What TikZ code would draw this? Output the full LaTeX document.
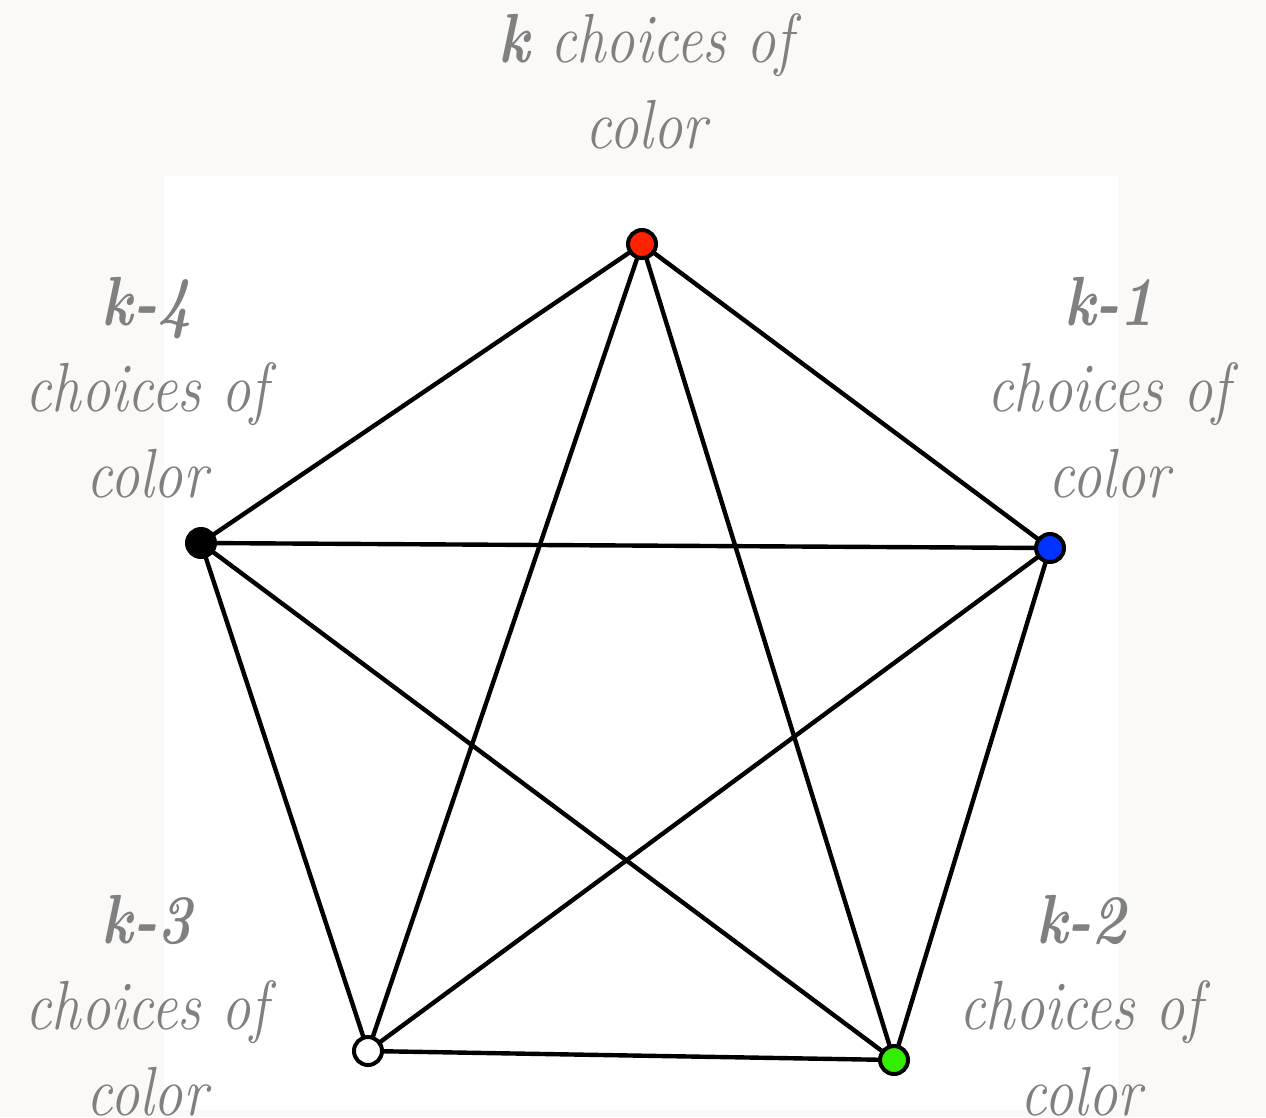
\documentclass[tikz,border=0pt]{standalone}
\usepackage{graphicx}
\definecolor{bgoff}{RGB}{250,249,247}
\definecolor{labelgray}{RGB}{128,128,128}
\definecolor{vred}{RGB}{255,34,0}
\definecolor{vblue}{RGB}{0,51,255}
\definecolor{vgreen}{RGB}{51,238,0}
\newcommand{\lline}[1]{\scalebox{0.96}[1.14]{#1}}
\begin{document}
\begin{tikzpicture}[x=1pt,y=-1pt,
  vertex/.style={circle,draw=black,line width=4pt,minimum size=28pt,inner sep=0pt},
  edge/.style={line width=4.4pt,black},
  lbl/.style={text=labelgray,align=center,anchor=base,inner sep=0pt,
    font=\fontsize{61}{86}\selectfont\itshape}]
\useasboundingbox (0,0) rectangle (1266,1117);
\clip (0,0) rectangle (1266,1117);
\fill[bgoff] (0,0) rectangle (1266,1117);
\fill[white] (164,176) rectangle (1118,1110);
% vertices
\coordinate (R) at (642,244);
\coordinate (B) at (1050,548);
\coordinate (G) at (894,1060);
\coordinate (W) at (368,1051);
\coordinate (K) at (201,543);
% edges
\draw[edge] (R) -- (B);
\draw[edge] (R) -- (K);
\draw[edge] (R) -- (W);
\draw[edge] (R) -- (G);
\draw[edge] (B) -- (K);
\draw[edge] (B) -- (W);
\draw[edge] (B) -- (G);
\draw[edge] (K) -- (W);
\draw[edge] (K) -- (G);
\draw[edge] (W) -- (G);
\node[vertex,fill=vred] (vr) at (R) {};
\node[vertex,fill=vblue] (vb) at (B) {};
\node[vertex,fill=vgreen] (vg) at (G) {};
\node[vertex,fill=white] (vw) at (W) {};
\node[vertex,fill=black] (vk) at (K) {};
% labels (anchored at the baseline of the last line)
\node[lbl] (lt) at (646,148) {\lline{\textbf{k} choices of}\\\lline{color}};
\node[lbl] (ll) at (147,497) {\lline{\textbf{k-4}}\\\lline{choices of}\\\lline{color}};
\node[lbl] (lr) at (1109,497) {\lline{\textbf{k-1}}\\\lline{choices of}\\\lline{color}};
\node[lbl] (lbl3) at (147,1115) {\lline{\textbf{k-3}}\\\lline{choices of}\\\lline{color}};
\node[lbl] (lbr) at (1081,1115) {\lline{\textbf{k-2}}\\\lline{choices of}\\\lline{color}};
\end{tikzpicture}
\end{document}
